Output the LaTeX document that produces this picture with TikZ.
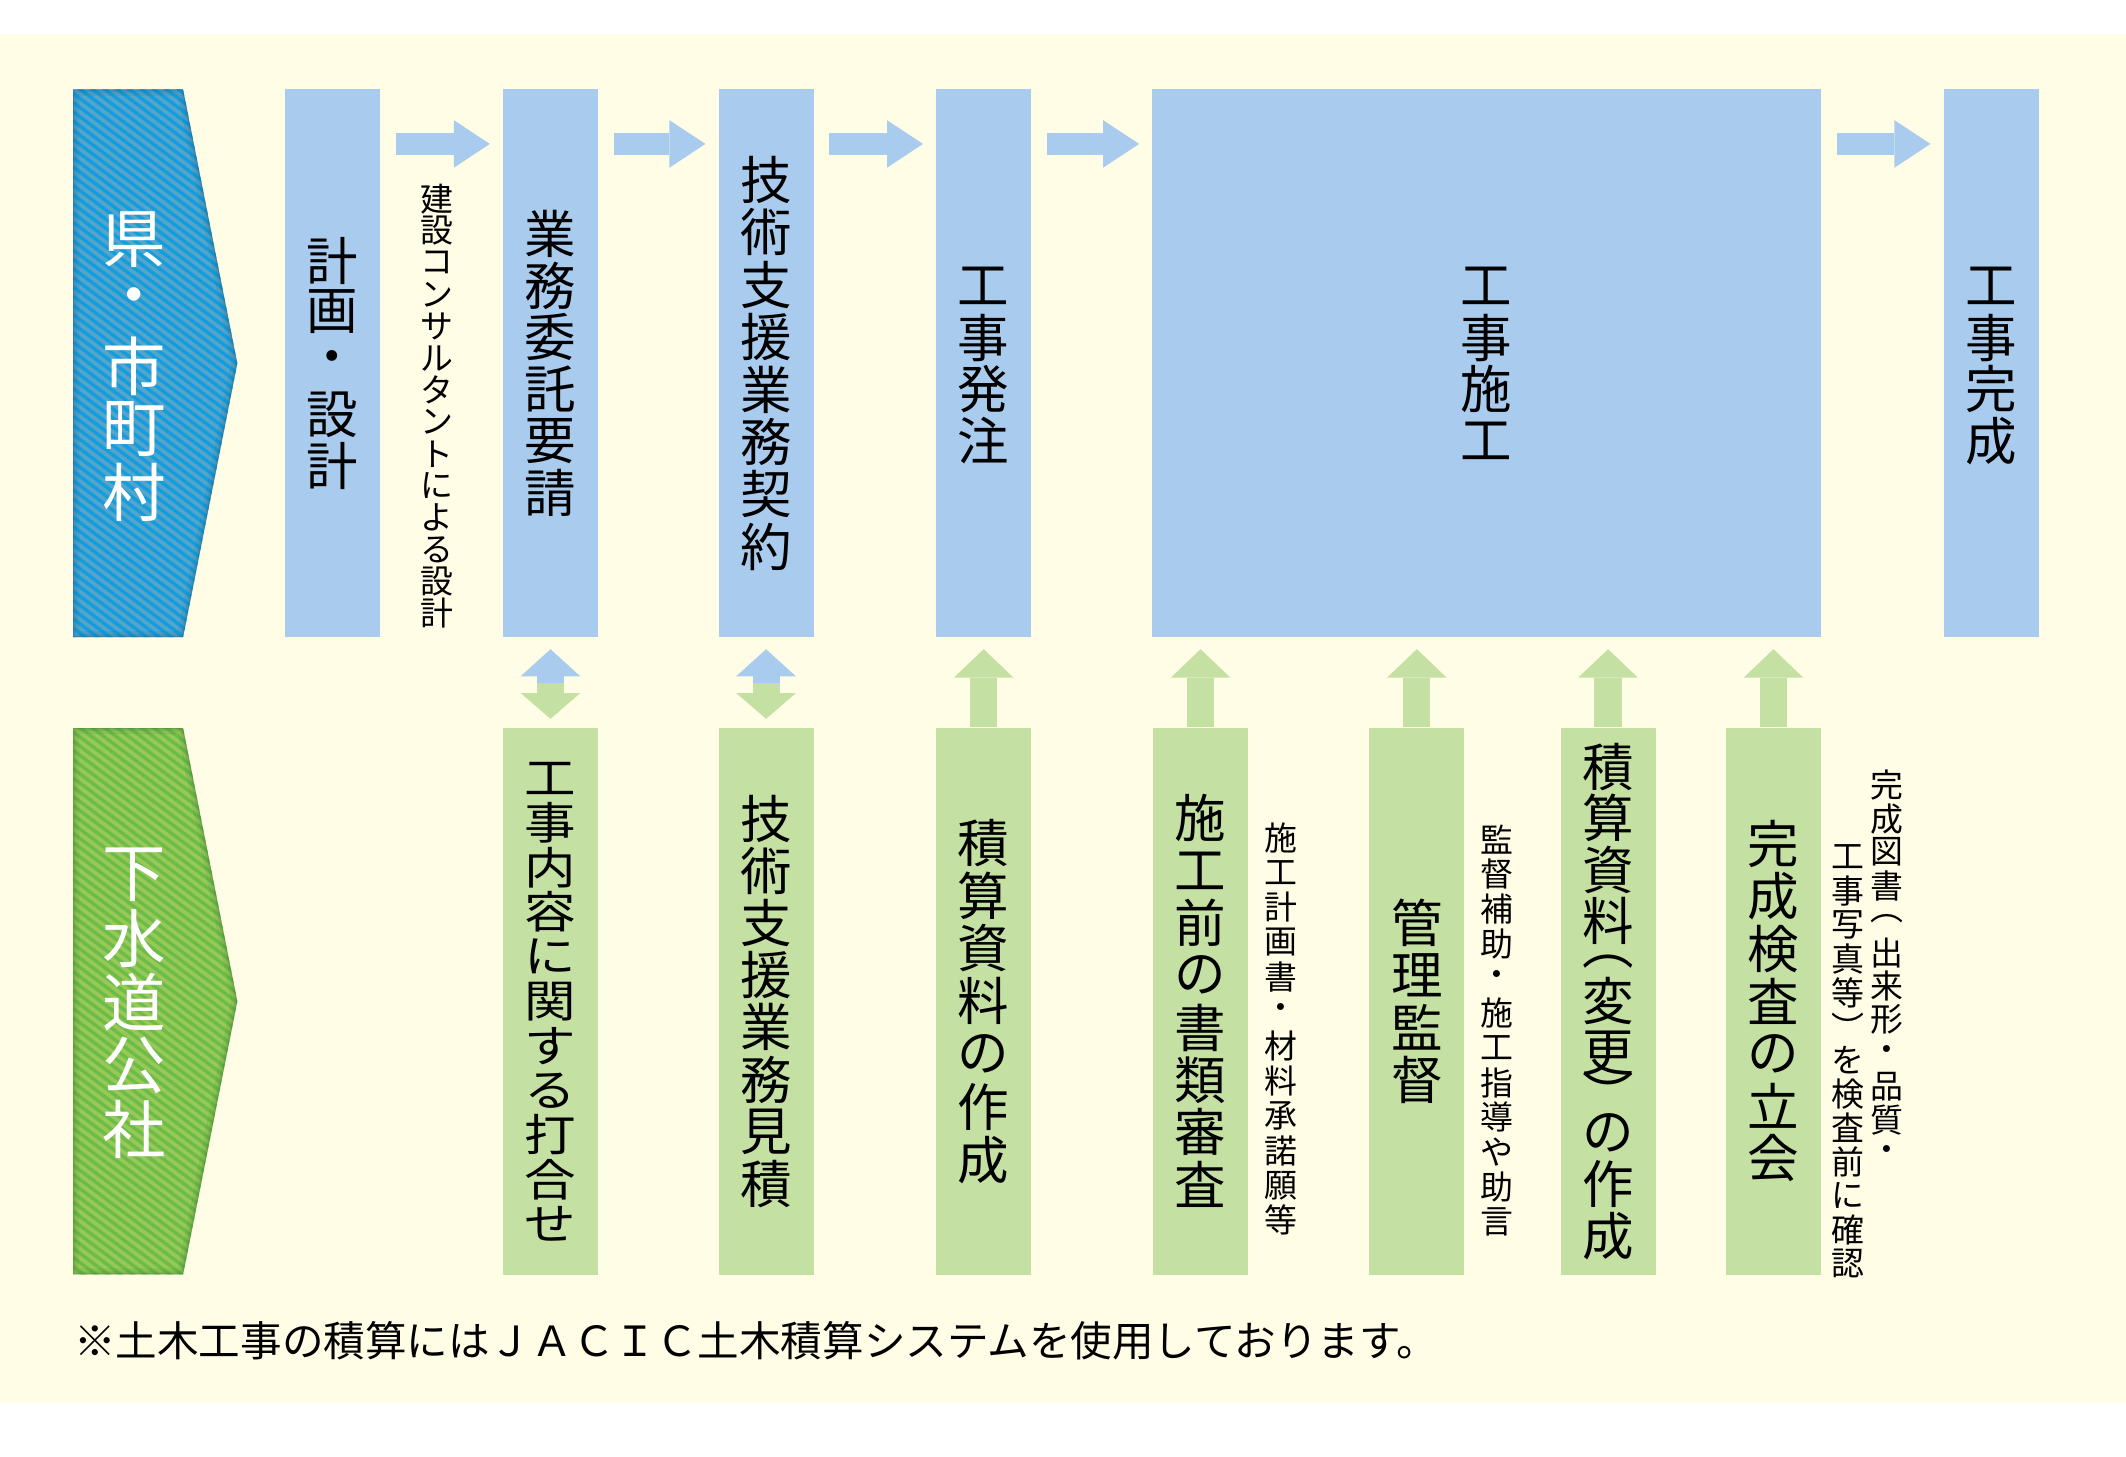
\documentclass[tikz,border=0pt]{standalone}
\usepackage{fontspec}
\usepackage{graphicx}
\usetikzlibrary{arrows.meta,calc}
\newfontfamily\jp{Noto Sans CJK JP}
\definecolor{cream}{RGB}{255, 253, 229}
\definecolor{skyblue}{RGB}{169, 204, 238}
\definecolor{leafgreen}{RGB}{197, 224, 163}
\definecolor{oceanbase}{RGB}{86, 164, 202}
\definecolor{oceanstripe}{RGB}{18, 158, 222}
\definecolor{oceanedge}{RGB}{25, 95, 135}
\definecolor{grassbase}{RGB}{152, 201, 86}
\definecolor{grassstripe}{RGB}{108, 188, 74}
\definecolor{grassedge}{RGB}{55, 120, 55}

\newlength\tatepitch
\newif\iftatehalf
\newcommand\tate[2]{\vbox{\offinterlineskip\tatepitch=#1\relax\tateloop#2\relax}}
\def\tateloop#1{\ifx\relax#1\else\tatechar{#1}\expandafter\tateloop\fi}
\newcommand\tatechar[1]{%
  \dimen0=\tatepitch
  \iftatehalf
    \ifnum`#1="FE35 \dimen0=.55\tatepitch\fi
    \ifnum`#1="FE36 \dimen0=.55\tatepitch\fi
  \fi
  \vbox to \dimen0{\vss\hbox to \tatepitch{\hss#1\hss}\vss}}
\newcommand\pentagonpath[2]{(54,#1) -- (135,#1) -- (175,{(#1+#2)/2}) -- (135,#2) -- (54,#2) -- cycle}

\tikzset{
  topbox/.style   = {fill=skyblue,   minimum width=0.70cm, minimum height=4.04cm, inner sep=0pt,
                     font=\jp\fontsize{10.8}{12}\selectfont},
  botbox/.style   = {fill=leafgreen, minimum width=0.70cm, minimum height=4.03cm, inner sep=0pt,
                     font=\jp\fontsize{10.8}{12}\selectfont},
  sidelabel/.style= {inner sep=0pt, text=white, font=\jp\fontsize{13.3}{14}\selectfont},
  note/.style     = {inner sep=0pt, font=\jp\fontsize{6.9}{8}\selectfont},
  flow/.style     = {draw=skyblue, line width=0.158cm, shorten <=0.11cm, shorten >=0.09cm,
                     -{Triangle[width=0.35cm, length=0.265cm, line width=0pt]}},
  lift/.style     = {draw=leafgreen, line width=0.20cm, shorten >=0.08cm,
                     -{Triangle[width=0.44cm, length=0.21cm, line width=0pt]}},
  liftblue/.style = {draw=skyblue, line width=0.20cm, shorten >=0.08cm,
                     -{Triangle[width=0.44cm, length=0.20cm, line width=0pt]}},
  dropgreen/.style= {draw=leafgreen, line width=0.20cm, shorten >=0.06cm,
                     -{Triangle[width=0.44cm, length=0.19cm, line width=0pt]}}
}

\begin{document}
\begin{tikzpicture}[x=0.01cm, y=-0.01cm]
  \fill[white] (0,0) rectangle (1568,1074);
  \fill[cream] (0,25) rectangle (1568,1035);
  \useasboundingbox (0,0) rectangle (1568,1074);

  \foreach \ya/\yb/\cbase/\cstripe/\cedge in {66/470/oceanbase/oceanstripe/oceanedge, 537/940/grassbase/grassstripe/grassedge}{
    \begin{scope}
      \clip \pentagonpath{\ya}{\yb};
      \fill[\cbase] (40,\ya-10) rectangle (190,\yb+10);
      \foreach \k in {0,...,78}
        \draw[\cstripe, line width=0.025cm] (54,\ya-106+\k*6.8) -- ++(140,105);
      \draw[\cedge, line width=0.09cm,  opacity=0.12] \pentagonpath{\ya}{\yb};
      \draw[\cedge, line width=0.045cm, opacity=0.15] \pentagonpath{\ya}{\yb};
      \draw[\cedge, line width=0.015cm, opacity=0.30] \pentagonpath{\ya}{\yb};
    \end{scope}
  }
  \node[sidelabel] (pref)  at (99,270) {\tate{0.467cm}{県・市町村}};
  \node[sidelabel] (sewer) at (99,739) {\tate{0.469cm}{下水道公社}};

  \node[topbox]                      (plan)     at (245,268)    {\tate{0.379cm}{計画・設計}};
  \node[topbox]                      (req)      at (406,268)    {\tate{0.382cm}{業務委託要請}};
  \node[topbox]                      (contract) at (565,268)    {\tate{0.386cm}{技術支援業務契約}};
  \node[topbox]                      (order)    at (725.5,268)  {\tate{0.380cm}{工事発注}};
  \node[topbox, minimum width=4.93cm] (work)    at (1096.5,268) {\tate{0.380cm}{工事施工}};
  \node[topbox]                      (done)     at (1468.5,268) {\tate{0.380cm}{工事完成}};

  \node[botbox] (talk)      at (406,738.5)  {\scalebox{1}[0.86]{\tate{0.382cm}{工事内容に関する打合せ}}};
  \node[botbox] (estimate)  at (565,738.5)  {\tate{0.384cm}{技術支援業務見積}};
  \node[botbox] (calc)      at (725.5,738.5){\tate{0.390cm}{積算資料の作成}};
  \node[botbox] (review)    at (885.5,738.5){\tate{0.386cm}{施工前の書類審査}};
  \node[botbox] (supervise) at (1045,738.5) {\tate{0.387cm}{管理監督}};
  \node[botbox] (recalc)    at (1186,738.5) {\tatehalftrue\tate{0.380cm}{積算資料︵変更︶の作成}};
  \node[botbox] (inspect)   at (1308,738.5) {\tate{0.386cm}{完成検査の立会}};

  \node[note] (consult) at (322.5,299.5) {\tate{0.235cm}{建設コンサルタントによる設計}};
  \node[note] (papers)  at (945,759)     {\tate{0.256cm}{施工計画書・材料承諾願等}};
  \node[note] (advice)  at (1104,760)    {\tate{0.256cm}{監督補助・施工指導や助言}};
  \node[note] (checkA)  at (1392,715)    {\tate{0.247cm}{完成図書︵出来形・品質・}};
  \node[note] (checkB)  at (1363,782)    {\tate{0.250cm}{工事写真等︶を検査前に確認}};

  \node[anchor=west, inner sep=0pt, font=\jp\fontsize{8.72}{10}\selectfont] (remark) at (54,989)
    {※土木工事の積算にはＪＡＣＩＣ土木積算システムを使用しております。};

  \draw[flow] ($(plan.north east)+(0,41)$)     -- ($(req.north west)+(0,41)$);
  \draw[flow] ($(req.north east)+(0,41)$)      -- ($(contract.north west)+(0,41)$);
  \draw[flow] ($(contract.north east)+(0,41)$) -- ($(order.north west)+(0,41)$);
  \draw[flow] ($(order.north east)+(0,41)$)    -- ($(work.north west)+(0,41)$);
  \draw[flow] ($(work.north east)+(0,41)$)     -- ($(done.north west)+(0,41)$);

  \coordinate (m1) at ($(req.south)!0.5!(talk.north)$);
  \coordinate (m2) at ($(contract.south)!0.5!(estimate.north)$);
  \draw[liftblue]  (m1) -- (req.south);
  \draw[dropgreen] (m1) -- (talk.north);
  \draw[liftblue]  (m2) -- (contract.south);
  \draw[dropgreen] (m2) -- (estimate.north);

  \draw[lift] (calc.north)      -- (order.south);
  \draw[lift] (review.north)    -- (review.north |- work.south);
  \draw[lift] (supervise.north) -- (supervise.north |- work.south);
  \draw[lift] (recalc.north)    -- (recalc.north |- work.south);
  \draw[lift] (inspect.north)   -- (inspect.north |- work.south);
\end{tikzpicture}
\end{document}
